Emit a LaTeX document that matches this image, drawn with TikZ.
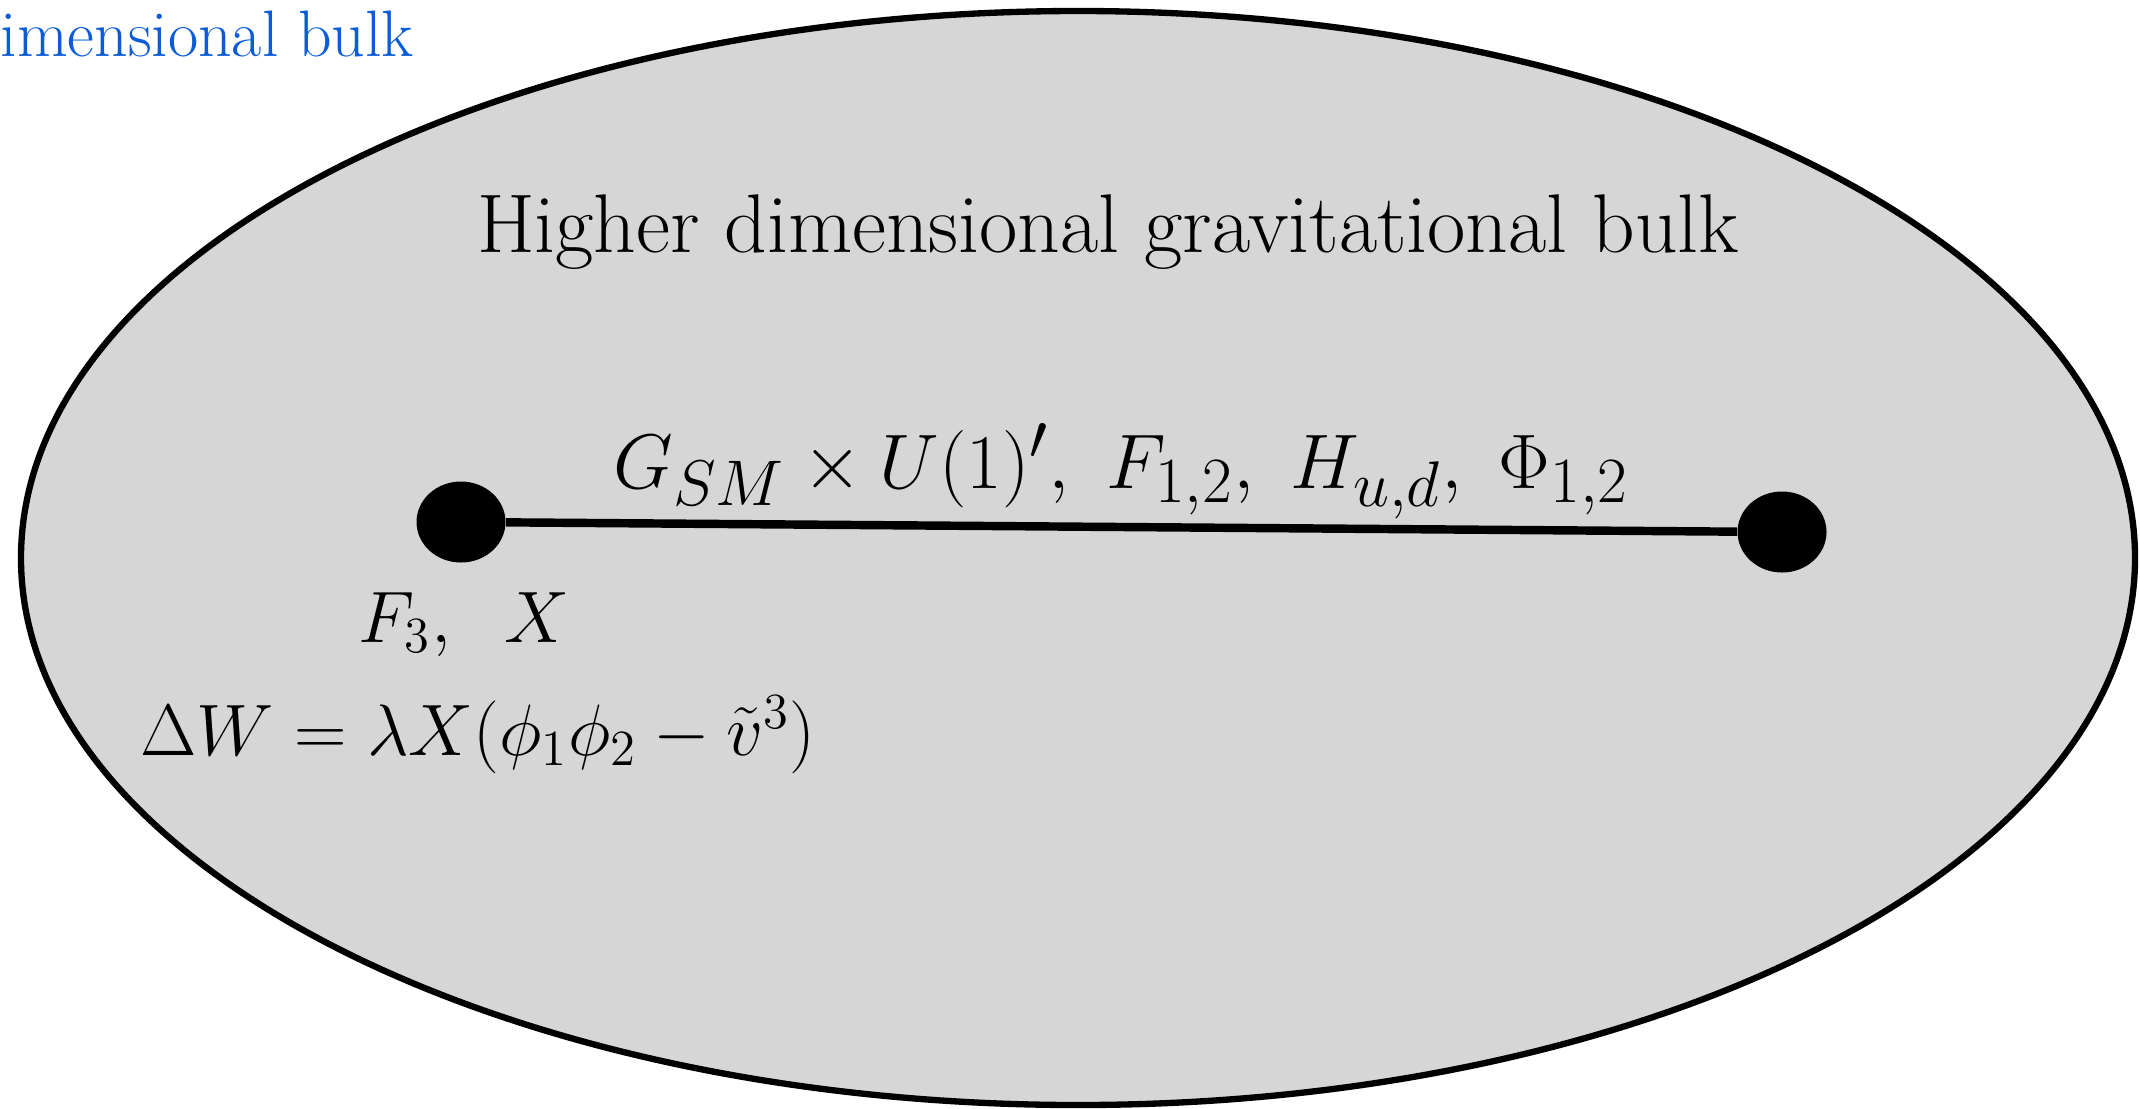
\documentclass[tikz,border=0pt]{standalone}
\usepackage{amsmath}
\usepackage{graphicx}
\usepackage{xcolor}
\usepackage{tikz}
\usetikzlibrary{shapes.geometric, positioning}
\definecolor{bulkgray}{HTML}{D6D6D6}
\definecolor{bulkblue}{HTML}{0B5CD6}

\begin{document}
\begin{tikzpicture}[
  bulk/.style={draw, line width=1.8pt, fill=bulkgray},
  brane/.style={ellipse, fill=black, minimum width=0.89cm,
    minimum height=0.81cm, inner sep=0pt},
  link/.style={line width=2.4pt},
  hdr/.style={font=\fontsize{23.7}{28}\selectfont, anchor=base, inner sep=0pt},
  fld/.style={font=\fontsize{24.88}{29}\selectfont, anchor=base, inner sep=0pt},
  lbl/.style={font=\fontsize{20}{24}\selectfont, anchor=base, inner sep=0pt},
  cut/.style={font=\fontsize{18.7}{22}\selectfont, text=bulkblue,
    anchor=base west, inner sep=0pt},
]
  \useasboundingbox (0,0) rectangle (21.4,-11.08);

  %% Bulk
  \draw[bulk] (10.78,-5.58) ellipse [x radius=10.57, y radius=5.47];
  \node[cut] (cutlbl) at (0,-0.56) {imensional bulk};
  \node[hdr] (bulklbl) at (11.08,-2.52) {Higher dimensional gravitational bulk};

  %% Branes
  \node[brane] (left) at (4.61,-5.22) {};
  \node[brane] (right) at (17.82,-5.32) {};
  \draw[link] (left) -- (right);

  \node[fld] (fields) at (11.21,-4.88)
    {\scalebox{0.885}{$G_{SM}\times U(1)',\ F_{1,2},\ H_{u,d},\ \Phi_{1,2}$}};
  \node[lbl] (leftfields) at (4.64,-6.42) {$F_3,\ \;X$};
  \node[lbl] (superpot) at (4.78,-7.55)
    {$\Delta W=\lambda X(\phi_1\phi_2-\tilde{v}^3)$};
\end{tikzpicture}
\end{document}
